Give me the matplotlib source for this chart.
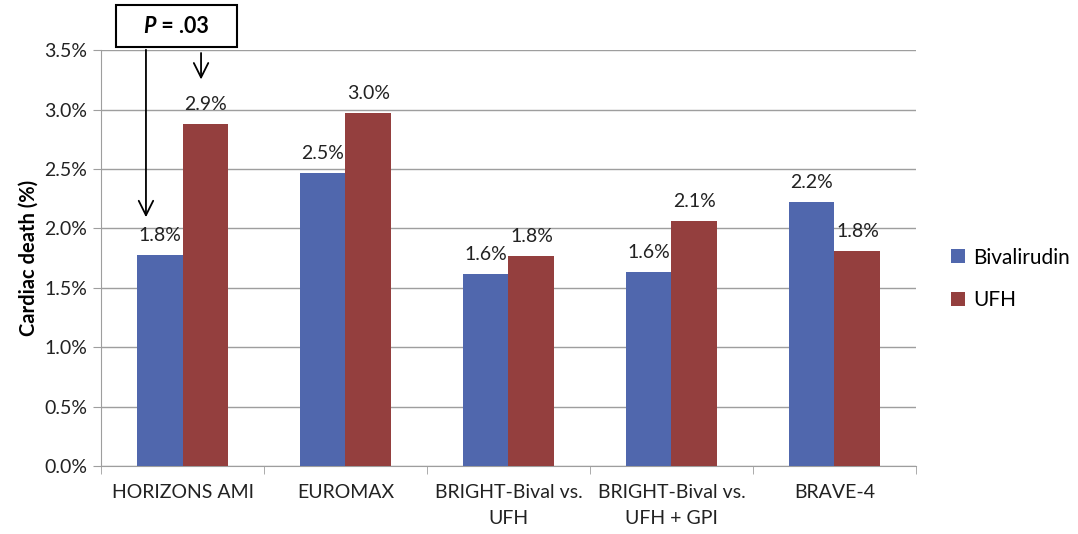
import matplotlib
import numpy as np

matplotlib.use("Agg")
import matplotlib.pyplot as plt
from matplotlib.patches import Rectangle
from matplotlib.ticker import FixedLocator, FuncFormatter

plt.rcParams["font.family"] = ["Lato", "DejaVu Sans"]

trials = [
    "HORIZONS AMI",
    "EUROMAX",
    "BRIGHT-Bival vs.\nUFH",
    "BRIGHT-Bival vs.\nUFH + GPI",
    "BRAVE-4",
]
bivalirudin = [1.78, 2.47, 1.62, 1.63, 2.22]
ufh = [2.88, 2.97, 1.77, 2.06, 1.81]
y_ticks = [0.0, 0.5, 1.0, 1.5, 2.0, 2.5, 3.0, 3.5]

BLUE = "#5067AD"
RED = "#943F3E"
GRID = "#9E9E9E"
TEXT = "#222222"
FS = 14

fig = plt.figure(figsize=(10.78, 5.34), dpi=100)
ax = fig.add_axes([0.0937, 0.127, 0.756, 0.779])

x = np.arange(len(trials))
w = 0.282
bars_b = ax.bar(x - w / 2, bivalirudin, w, color=BLUE, label="Bivalirudin", zorder=3)
bars_u = ax.bar(x + w / 2, ufh, w, color=RED, label="UFH", zorder=3)

for bars, vals in ((bars_b, bivalirudin), (bars_u, ufh)):
    for b, v in zip(bars, vals):
        ax.annotate(f"{v:.1f}%", (b.get_x() + b.get_width() / 2, v),
                    xytext=(0, 8), textcoords="offset points",
                    ha="center", va="bottom", fontsize=FS, color=TEXT)

ax.set_xlim(-0.5, len(trials) - 0.5)
ax.set_ylim(0, 3.5)
ax.set_yticks(y_ticks)
ax.yaxis.set_major_formatter(FuncFormatter(lambda v, _: f"{v:.1f}%"))
ax.yaxis.grid(True, color=GRID, linewidth=1.0, zorder=0)

ax.set_xticks(x)
ax.set_xticklabels(trials, fontsize=FS, color=TEXT, linespacing=1.6)
ax.xaxis.set_minor_locator(FixedLocator(np.arange(-0.5, len(trials), 1.0)))
ax.tick_params(axis="x", which="major", length=0, pad=13)
ax.tick_params(axis="x", which="minor", length=6, color=GRID)
ax.tick_params(axis="y", length=6, color=GRID, labelsize=FS, labelcolor=TEXT, pad=4)

for side in ("top", "right"):
    ax.spines[side].set_visible(False)
for side in ("left", "bottom"):
    ax.spines[side].set_color(GRID)

ax.set_ylabel("Cardiac death (%)", fontsize=14.5, fontweight="bold", labelpad=4)

ax.legend(loc="center left", bbox_to_anchor=(1.02, 0.45), frameon=False,
          fontsize=15, handlelength=0.65, handleheight=0.65, labelspacing=1.1,
          handletextpad=0.4)

# significance box with arrows pointing at the HORIZONS AMI bars
fig.patches.append(Rectangle((0.1076, 0.912), 0.1122, 0.0786, transform=fig.transFigure,
                             fc="white", ec="black", lw=1.5, figure=fig))
fig.text(0.1445, 0.951, "P", ha="right", va="center", fontsize=15.5,
         fontweight="bold", style="italic")
fig.text(0.1445, 0.951, " = .03", ha="left", va="center", fontsize=15.5, fontweight="bold")

arrow = dict(arrowstyle="->", color="black", lw=1.3, mutation_scale=26)
ax.annotate("", xy=(0.1354, 0.588), xycoords="figure fraction",
            xytext=(0.1354, 0.912), textcoords="figure fraction", arrowprops=arrow)
ax.annotate("", xy=(0.1865, 0.846), xycoords="figure fraction",
            xytext=(0.1865, 0.906), textcoords="figure fraction", arrowprops=arrow)

fig.savefig("out.png", dpi=100)
